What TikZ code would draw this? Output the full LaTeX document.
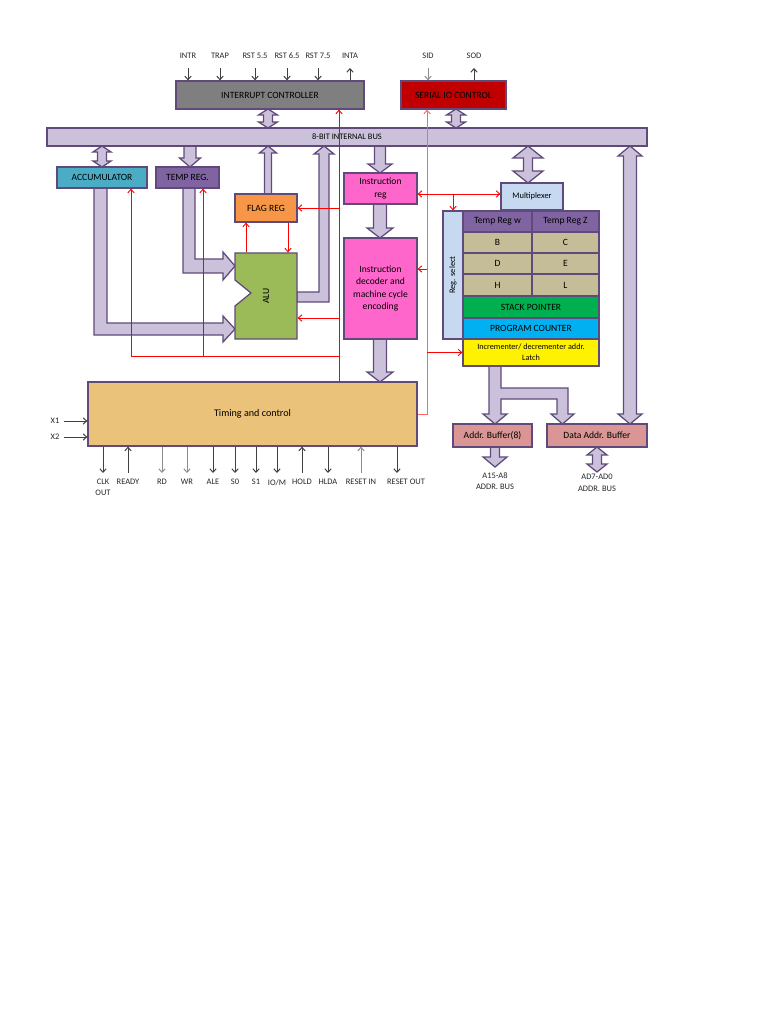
\documentclass[tikz,border=0pt]{standalone}
\usepackage{fontspec}
\setmainfont{Carlito}
\usetikzlibrary{arrows.meta}

\definecolor{edge}{HTML}{604A7B}
\definecolor{busfill}{HTML}{CCC1DA}
\definecolor{intgray}{HTML}{7F7F7F}
\definecolor{siored}{HTML}{C00000}
\definecolor{acccyan}{HTML}{4BACC6}
\definecolor{tmppurple}{HTML}{8064A2}
\definecolor{flagorange}{HTML}{F79646}
\definecolor{alugreen}{HTML}{9BBB59}
\definecolor{irpink}{HTML}{FF66CC}
\definecolor{timingtan}{HTML}{EBC27A}
\definecolor{muxblue}{HTML}{C6D9F1}
\definecolor{regtan}{HTML}{C4BD97}
\definecolor{spgreen}{HTML}{00B050}
\definecolor{pccyan}{HTML}{00B0F0}
\definecolor{bufpink}{HTML}{DA9694}

\tikzset{
  blk/.style={draw=edge, line width=0.9pt, inner sep=0pt, align=center, font=\fontsize{6.8}{9}\selectfont},
  wh/.style 2 args={minimum width=#1*0.025cm, minimum height=#2*0.025cm},
  fat/.style={draw=edge, fill=busfill, line width=0.9pt},
  ctl/.style={draw=red, line width=0.65pt, -{Straight Barb[length=2.5pt,width=4.5pt]}},
  sig/.style={draw=black!75, line width=0.7pt, -{Straight Barb[length=2.5pt,width=4.5pt]}},
  siglt/.style={sig, draw=black!45},
  lbl/.style={font=\fontsize{6}{7.8}\selectfont, inner sep=0pt, align=center, text=black!85}
}

% wide bus arrows: x, tail/top y, tip/bottom y, shaft half, head half, head length
\newcommand{\fatdown}[6]{\draw[fat] (#1-#4,#2) -- (#1-#4,#3-#6) -- (#1-#5,#3-#6) -- (#1,#3) -- (#1+#5,#3-#6) -- (#1+#4,#3-#6) -- (#1+#4,#2) -- cycle;}
\newcommand{\fatup}[6]{\draw[fat] (#1-#4,#2) -- (#1-#4,#3+#6) -- (#1-#5,#3+#6) -- (#1,#3) -- (#1+#5,#3+#6) -- (#1+#4,#3+#6) -- (#1+#4,#2) -- cycle;}
\newcommand{\fatboth}[6]{\draw[fat] (#1,#2) -- (#1+#5,#2+#6) -- (#1+#4,#2+#6) -- (#1+#4,#3-#6) -- (#1+#5,#3-#6) -- (#1,#3) -- (#1-#5,#3-#6) -- (#1-#4,#3-#6) -- (#1-#4,#2+#6) -- (#1-#5,#2+#6) -- cycle;}

\begin{document}
\begin{tikzpicture}[x=0.025cm, y=-0.025cm]
\path[use as bounding box, fill=white] (0,0) rectangle (768,1024);

% bus arrows
\fatboth{268}{109}{128}{4.5}{9.5}{6}
\fatboth{456}{109}{128}{4.5}{9.5}{6}
\fatboth{102}{146}{167}{4.5}{9}{6}
\fatdown{190}{146}{167}{6}{10.5}{9}
\fatup{268}{194}{146}{3.5}{8.5}{7}
\fatdown{380}{146}{173}{5.5}{12}{9}
\fatdown{380}{204}{238}{6.5}{13}{10}
\fatdown{380}{339}{382}{6.5}{13}{10}
\fatboth{528}{146}{183}{4.5}{15}{12}
\fatboth{630}{146}{424}{6.5}{12}{10}
\fatdown{495}{447}{467}{4.5}{12}{10}
\fatboth{597}{447}{472}{4.5}{10}{8}
\draw[fat] (183,188) -- (183,273) -- (223,273) -- (223,280) -- (235,266) -- (223,252) -- (223,259) -- (195,259) -- (195,188) -- cycle;
\draw[fat] (94,188) -- (94,335) -- (223,335) -- (223,342) -- (235,329) -- (223,316) -- (223,323) -- (107,323) -- (107,188) -- cycle;
\draw[fat] (297,292) -- (319,292) -- (319,154) -- (314,154) -- (324,146) -- (334,154) -- (329,154) -- (329,302) -- (297,302) -- cycle;
\draw[fat] (489,366) -- (489,414) -- (483,414) -- (495,424) -- (507,414) -- (501,414) -- (501,399) -- (557,399) -- (557,414) -- (551,414) -- (562.5,424) -- (574,414) -- (568,414) -- (568,388) -- (501,388) -- (501,366) -- cycle;

% blocks
\node[blk, fill=intgray, wh={188}{28}] (intc) at (270,95) {INTERRUPT CONTROLLER};
\node[blk, fill=siored, wh={105}{28}] (sio) at (453.5,95) {SERIAL IO CONTROL};
\node[blk, fill=busfill, wh={600}{18}, font=\fontsize{6}{7}\selectfont] (bus) at (347,137) {8-BIT INTERNAL BUS};
\node[blk, fill=acccyan, wh={90}{21}] (acc) at (102,177.5) {ACCUMULATOR};
\node[blk, fill=tmppurple, wh={63}{21}] (tmp) at (187.5,177.5) {TEMP REG.};
\node[blk, fill=flagorange, wh={62}{28}] (flag) at (266,208) {FLAG REG};
\draw[draw=edge, fill=alugreen, line width=0.9pt] (235,253) -- (297,253) -- (297,339) -- (235,339) -- (235,306) -- (251,293) -- (235,280) -- cycle;
\node[blk, draw=none, wh={62}{86}] (alu) at (266,296) {\rotatebox{90}{ALU}};
\node[blk, fill=irpink, wh={73}{31}] (ir) at (380.5,188.5) {Instruction\\reg};
\node[blk, fill=irpink, wh={73}{101}] (dec) at (380.5,288.5) {Instruction\\decoder and\\machine cycle\\encoding};
\node[blk, fill=timingtan, wh={329}{64}, font=\fontsize{7.2}{9}\selectfont] (timing) at (252.5,414) {Timing and control};

\node[blk, fill=muxblue, wh={62}{27}, font=\fontsize{6}{7}\selectfont] (mux) at (532,196.5) {Multiplexer};
\node[blk, fill=muxblue, wh={20}{128}, font=\fontsize{6}{7}\selectfont] (regsel) at (453,275) {\rotatebox{90}{Reg. select}};
\node[blk, fill=tmppurple, wh={69}{21}] (regw) at (497.5,221.5) {Temp Reg w};
\node[blk, fill=tmppurple, wh={67}{21}] (regz) at (565.5,221.5) {Temp Reg Z};
\node[blk, fill=regtan, wh={69}{21}] (regb) at (497.5,242.5) {B};
\node[blk, fill=regtan, wh={67}{21}] (regc) at (565.5,242.5) {C};
\node[blk, fill=regtan, wh={69}{21}] (regd) at (497.5,263.5) {D};
\node[blk, fill=regtan, wh={67}{21}] (rege) at (565.5,263.5) {E};
\node[blk, fill=regtan, wh={69}{22}] (regh) at (497.5,285) {H};
\node[blk, fill=regtan, wh={67}{22}] (regl) at (565.5,285) {L};
\node[blk, fill=spgreen, wh={136}{22}] (sp) at (531,307) {STACK POINTER};
\node[blk, fill=pccyan, wh={136}{21}] (pc) at (531,328.5) {PROGRAM COUNTER};
\node[blk, fill=yellow, wh={136}{27}, font=\fontsize{5.8}{7.8}\selectfont] (latch) at (531,352.5) {Incrementer/ decrementer addr.\\Latch};
\node[blk, fill=bufpink, wh={79}{23}] (abuf) at (492.5,435.5) {Addr. Buffer(8)};
\node[blk, fill=bufpink, wh={100}{23}] (dbuf) at (597,435.5) {Data Addr. Buffer};

% control lines
\coordinate (redA) at (339,0);
\coordinate (redB) at (427,0);
\coordinate (fbk) at (0,356);
\coordinate (aluin) at (0,318);
\coordinate (decin) at (0,269);
\coordinate (sel) at (453,194);
\coordinate (fup) at (246,0);
\coordinate (fdn) at (288,0);
\coordinate (accin) at (131,0);
\coordinate (tmpin) at (203,0);
\draw[ctl] (timing.north -| redA) -- (intc.south -| redA);
\draw[ctl] (redA |- flag.east) -- (flag.east);
\draw[ctl] (redA |- aluin) -- (alu.east |- aluin);
\draw[ctl] (redA |- fbk) -| (acc.south -| accin);
\draw[ctl] (tmpin |- fbk) -- (tmp.south -| tmpin);
\draw[ctl] (alu.north -| fup) -- (flag.south -| fup);
\draw[ctl] (flag.south -| fdn) -- (alu.north -| fdn);
\draw[ctl, draw=red!60] (timing.east) -| (sio.south -| redB);
\draw[ctl] (redB |- sel) -- (ir.east |- sel);
\draw[ctl] (redB |- sel) -- (mux.west |- sel);
\draw[ctl] (sel) -- (regsel.north -| sel);
\draw[ctl] (redB |- decin) -- (dec.east |- decin);
\draw[ctl] (redB |- latch.west) -- (latch.west);

% pins on top
\coordinate (sigtop) at (0,68);
\node[lbl] (intr) at (188,56) {INTR};
\node[lbl] (trap) at (220,56) {TRAP};
\node[lbl] (rst55) at (255,56) {RST 5.5};
\node[lbl] (rst65) at (287,56) {RST 6.5};
\node[lbl] (rst75) at (318,56) {RST 7.5};
\node[lbl] (inta) at (350,56) {INTA};
\node[lbl] (sid) at (428,56) {SID};
\node[lbl] (sod) at (474,56) {SOD};
\draw[sig] (intr |- sigtop) -- (intr |- intc.north);
\draw[sig] (trap |- sigtop) -- (trap |- intc.north);
\draw[sig] (rst55 |- sigtop) -- (rst55 |- intc.north);
\draw[sig] (rst65 |- sigtop) -- (rst65 |- intc.north);
\draw[sig] (rst75 |- sigtop) -- (rst75 |- intc.north);
\draw[sig] (inta |- intc.north) -- (inta |- sigtop);
\draw[siglt] (sid |- sigtop) -- (sid |- sio.north);
\draw[sig] (sod |- sio.north) -- (sod |- sigtop);

% clock inputs
\node[lbl] (x1) at (55,421) {X1};
\node[lbl] (x2) at (55,437) {X2};
\draw[sig] ([xshift=3pt]x1.east) -- (timing.west |- x1);
\draw[sig] ([xshift=3pt]x2.east) -- (timing.west |- x2);

% pins at the bottom
\coordinate (sigbot) at (0,473);
\coordinate (rso) at (397,0);
\node[lbl, anchor=north] (clk) at (103,479) {CLK\\OUT};
\node[lbl, anchor=north] (ready) at (128,479) {READY};
\node[lbl, anchor=north] (rd) at (162,479) {RD};
\node[lbl, anchor=north] (wr) at (187,479) {WR};
\node[lbl, anchor=north] (ale) at (213,479) {ALE};
\node[lbl, anchor=north] (s0) at (235,479) {S0};
\node[lbl, anchor=north] (s1) at (256,479) {S1};
\node[lbl, anchor=north] (iom) at (277,479) {IO/M};
\node[lbl, anchor=north] (hold) at (302,479) {HOLD};
\node[lbl, anchor=north] (hlda) at (328,479) {HLDA};
\node[lbl, anchor=north] (rstin) at (361,479) {RESET IN};
\node[lbl, anchor=north] (rstout) at (406,479) {RESET OUT};
\draw[sig] (timing.south -| clk) -- (clk |- sigbot);
\draw[sig] (ready |- sigbot) -- (timing.south -| ready);
\draw[siglt] (timing.south -| rd) -- (rd |- sigbot);
\draw[siglt] (timing.south -| wr) -- (wr |- sigbot);
\draw[sig] (timing.south -| ale) -- (ale |- sigbot);
\draw[sig] (timing.south -| s0) -- (s0 |- sigbot);
\draw[sig] (timing.south -| s1) -- (s1 |- sigbot);
\draw[sig] (timing.south -| iom) -- (iom |- sigbot);
\draw[sig] (hold |- sigbot) -- (timing.south -| hold);
\draw[sig] (timing.south -| hlda) -- (hlda |- sigbot);
\draw[siglt] (rstin |- sigbot) -- (timing.south -| rstin);
\draw[sig] (timing.south -| rso) -- (rso |- sigbot);

% address and data bus
\node[lbl, anchor=north] (abus) at (495,472) {A15-A8\\ADDR. BUS};
\node[lbl, anchor=north, font=\fontsize{6}{8.5}\selectfont] (dbus) at (597,474) {AD7-AD0\\ADDR. BUS};
\end{tikzpicture}
\end{document}
